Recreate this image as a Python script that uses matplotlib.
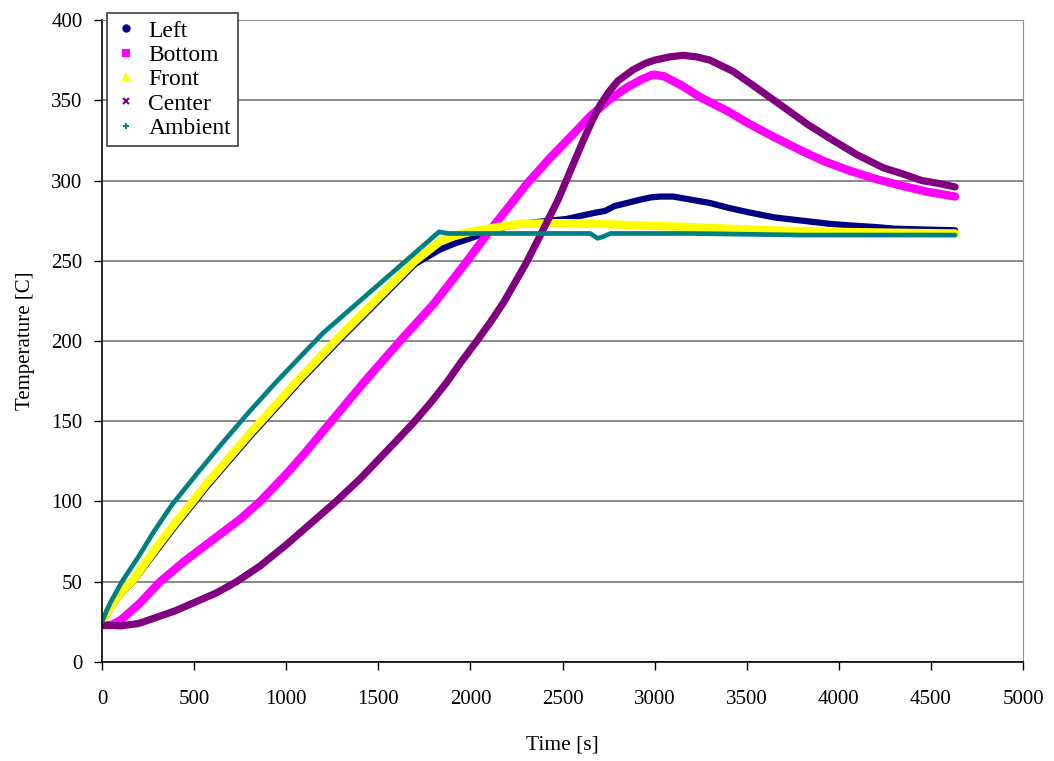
import matplotlib.pyplot as plt
from matplotlib.lines import Line2D

plt.rcParams['font.family'] = ['Liberation Serif', 'DejaVu Serif']

# Left thermocouple
t_left = [0, 50, 100, 168, 300, 400, 478, 560, 650, 800, 950, 1075, 1275, 1509, 1700, 1835, 1920,
          2000, 2150, 2270, 2350, 2432, 2520, 2600, 2680, 2730, 2780, 2850, 2920, 2980, 3029,
          3100, 3200, 3300, 3400, 3518, 3650, 3800, 3950, 4061, 4200, 4300, 4450, 4631]
T_left = [24, 34, 42, 50, 70, 85, 96, 108, 120, 140, 159, 175, 199, 226, 248, 257, 261,
          264, 270, 273, 274, 275, 276, 278, 280, 281, 284, 286, 288, 289.5, 290,
          290, 288, 286, 283, 280, 277, 275, 273, 272, 271, 270, 269.5, 269]

# Bottom
t_bot = [0, 50, 100, 200, 315, 450, 600, 750, 858, 1000, 1100, 1238, 1420, 1618, 1800, 1970,
         2100, 2231, 2307, 2432, 2550, 2650, 2750, 2850, 2930, 2991, 3050, 3150, 3246, 3400,
         3518, 3650, 3789, 3920, 4061, 4200, 4332, 4480, 4631]
T_bot = [23, 23, 26, 36, 50, 63, 76, 89, 100, 117, 130, 149, 174, 200, 223, 248,
         268, 287, 298, 314, 328, 340, 350, 358, 363, 366, 365, 359, 352, 343,
         335, 327, 319, 312, 306, 301, 297, 293, 290]

# Front
t_front = [0, 50, 100, 168, 300, 400, 478, 560, 650, 800, 950, 1075, 1275, 1509, 1700, 1835,
           1900, 2000, 2150, 2270, 2500, 2700, 2920, 3200, 3400, 3600, 3800, 4000, 4300, 4631]
T_front = [25, 35, 43, 51, 72, 87, 98, 110, 122, 142, 161, 177, 201, 228, 250, 262,
           265, 268, 271, 273, 273.5, 273, 272, 271, 270, 269, 268.5, 268, 267.5, 267]

# Center
t_cen = [0, 100, 200, 300, 400, 500, 620, 730, 860, 1000, 1130, 1270, 1400, 1500, 1600, 1690,
         1780, 1870, 1950, 2035, 2110, 2180, 2240, 2300, 2380, 2476, 2550, 2613, 2660, 2704,
         2750, 2800, 2883, 2950, 3000, 3080, 3154, 3230, 3300, 3426, 3550, 3697, 3830, 3969,
         4100, 4240, 4350, 4450, 4550, 4631]
T_cen = [23, 22.5, 24, 28, 32, 37, 43, 50, 60, 73, 86, 100, 114, 126, 138, 149,
         161, 174, 187, 200, 212, 224, 236, 248, 266, 288, 308, 325, 337, 347,
         355, 362, 369, 373, 375, 377, 378, 377, 375, 368, 358, 346, 335, 325,
         316, 308, 304, 300, 298, 296]

# Ambient
t_amb = [0, 25, 50, 108, 200, 280, 380, 450, 520, 650, 800, 950, 1075, 1200, 1400, 1600, 1700,
         1830, 1880, 2200, 2650, 2690, 2720, 2760, 3200, 3800, 4631]
T_amb = [25, 32, 38, 50, 66, 81, 98, 108, 118, 136, 156, 175, 190, 205, 225, 245, 255,
         268, 267, 267, 267, 264, 265, 267, 267, 266, 266]

names = ['Left', 'Bottom', 'Front', 'Center', 'Ambient']
colors = ['#000080', '#ff00ff', '#ffff00', '#800080', '#008080']
markers = ['o', 's', '^', 'x', '+']
widths = [4.5, 6, 6, 5.2, 3.4]

fig = plt.figure(figsize=(10.54, 7.61), dpi=100)
ax = fig.add_axes([0.0968, 0.1301, 0.8738, 0.8436])

series = [(t_left, T_left), (t_bot, T_bot), (t_front, T_front), (t_cen, T_cen), (t_amb, T_amb)]
for (t, T), c, lw in zip(series, colors, widths):
    ax.plot(t, T, color=c, lw=lw, solid_joinstyle='round', solid_capstyle='round')

ax.set_xlim(0, 5000)
ax.set_ylim(0, 400)
ax.set_xticks(range(0, 5001, 500))
ax.set_yticks(range(0, 401, 50))
ax.yaxis.grid(True, color='#808080', lw=1.3)
ax.set_axisbelow(True)
ax.tick_params(direction='out', length=6, width=1, labelsize=15)
ax.tick_params(axis='x', pad=14)
ax.tick_params(axis='y', pad=8)
ax.spines['top'].set_color('#909090')
ax.spines['right'].set_color('#909090')
for s in ['left', 'bottom']:
    ax.spines[s].set_linewidth(1.2)

ax.set_xlabel('Time [s]', fontsize=15.5, labelpad=19)
ax.set_ylabel('Temperature [C]', fontsize=15, labelpad=12)

handles = [Line2D([], [], color=c, marker=m, linestyle='none', markersize=4.5, markeredgewidth=1.5)
           for c, m in zip(colors, markers)]
leg = fig.legend(handles, names, loc='upper left', bbox_to_anchor=(107 / 1054, 1 - 13 / 761),
                 bbox_transform=fig.transFigure, fontsize=17, frameon=True, fancybox=False,
                 edgecolor='#404040', framealpha=1, borderaxespad=0, handlelength=1.0,
                 handletextpad=0.45, labelspacing=0.12, borderpad=0.3)
leg.get_frame().set_linewidth(1.2)

fig.savefig('out.png', dpi=100)
